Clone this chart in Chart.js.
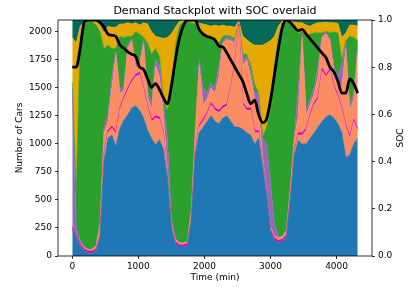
<!DOCTYPE html>
<html>
<head>
<meta charset="utf-8">
<script src="https://cdn.jsdelivr.net/npm/chart.js@4/dist/chart.umd.min.js"></script>
<style>
html,body{margin:0;padding:0;background:#fff;}
canvas{display:block;}
</style>
</head>
<body>
<canvas id="c" width="419" height="287"></canvas>
<script>
// Time axis (minutes)
const times = [0,60,120,180,240,300,360,420,480,540,
600,660,720,780,840,900,960,1020,1080,1140,
1200,1260,1320,1380,1440,1500,1560,1620,1680,1740,
1800,1860,1920,1980,2040,2100,2160,2220,2280,2340,
2400,2460,2520,2580,2640,2700,2760,2820,2880,2940,
3000,3060,3120,3180,3240,3300,3360,3420,3480,3540,
3600,3660,3720,3780,3840,3900,3960,4020,4080,4140,
4200,4260,4320];

// Stack layers (number of cars), bottom to top
const blueCars = [240,160,90,45,25,25,45,160,850,1050,
1080,980,1140,1210,1260,1320,1340,1300,1230,1120,
1050,990,1040,950,700,250,110,80,80,90,
300,900,1100,1150,1200,1250,1200,1180,1230,1250,
1200,1150,1150,1130,1100,1080,1000,1050,800,550,
220,140,120,130,170,500,900,1030,1000,1000,
1050,1100,1150,1200,1240,1260,1230,1180,1100,880,
900,1000,1050];
const salmonLowCars = [0,0,0,0,0,0,0,0,50,50,
60,110,160,190,220,230,260,320,250,200,
150,240,180,130,20,10,0,0,0,0,
0,20,50,50,60,100,100,100,90,90,
300,550,900,220,200,220,100,50,30,10,
0,0,0,0,0,0,20,50,80,120,
200,250,250,450,360,390,270,240,200,270,
150,200,70];
const magentaCars = [20,20,20,20,20,20,20,20,20,20,
20,20,20,20,20,20,20,20,20,20,
20,20,20,20,20,20,20,20,20,20,
20,20,20,20,20,20,20,20,20,20,
20,25,20,20,20,20,20,20,20,20,
20,20,20,20,20,20,20,20,20,20,
20,20,20,25,20,20,20,20,20,20,
20,20,20];
const salmonHighCars = [0,0,5,10,10,15,25,100,180,80,
340,690,130,60,350,350,60,60,400,80,
80,450,360,150,40,20,20,15,15,20,
80,160,530,130,120,130,130,300,560,570,
400,175,15,330,430,280,280,180,50,20,
20,20,20,20,40,80,110,150,850,110,
80,80,180,275,360,250,130,110,180,680,
230,180,710];
const purpleCars = [1240,70,25,10,5,0,0,10,50,60,
100,30,40,30,30,20,40,30,30,50,
50,50,100,130,270,30,10,5,0,0,
0,10,50,150,50,40,50,100,20,20,
20,20,0,60,30,50,50,150,150,400,
390,100,20,5,5,10,10,250,40,50,
50,50,100,20,15,20,50,50,200,50,
50,50,50];
const greenCars = [50,350,1810,1975,2030,2030,1970,1710,700,620,
250,20,470,440,80,20,280,250,20,430,
450,100,80,10,250,1110,1720,1930,1975,1960,
1680,960,250,490,500,390,420,200,40,20,
20,20,0,40,20,50,80,10,10,150,
650,1420,1770,1905,1855,1470,980,490,10,660,
580,490,290,20,10,50,300,390,50,20,
610,500,20];
const goldCars = [400,1300,100,30,10,10,30,60,140,170,
190,190,110,120,120,110,80,80,130,170,
200,110,170,550,650,540,160,40,10,10,
15,20,75,80,110,120,140,150,100,80,
90,100,10,160,130,200,350,420,820,750,
620,260,100,15,10,15,45,90,80,100,
70,80,90,90,80,90,80,85,200,70,
100,110,130];
const tealCars = [155,205,55,15,5,5,15,45,115,55,
65,65,35,35,25,35,25,45,25,35,
105,145,155,165,155,125,65,15,5,5,
10,15,30,35,45,55,45,55,45,55,
55,65,10,145,175,205,225,225,225,205,
185,145,55,10,5,10,20,25,25,45,
55,35,25,25,20,25,25,30,155,115,
45,45,55];

// State of charge
const soc = [0.80,0.80,0.88,0.99,1.0,1.0,1.0,0.99,0.97,0.94,
0.935,0.93,0.895,0.88,0.865,0.855,0.845,0.80,0.79,0.75,
0.715,0.73,0.705,0.67,0.645,0.72,0.83,0.92,0.975,1.0,
1.0,1.0,0.96,0.94,0.93,0.925,0.915,0.89,0.885,0.86,
0.83,0.80,0.77,0.74,0.69,0.645,0.66,0.60,0.565,0.58,
0.66,0.77,0.88,0.97,1.0,0.99,0.97,0.955,0.96,0.94,
0.92,0.90,0.88,0.86,0.84,0.80,0.78,0.74,0.69,0.69,
0.75,0.73,0.69];

const xTicks = [0,1000,2000,3000,4000];
const yTicks = [0,250,500,750,1000,1250,1500,1750,2000];
const socTicks = [0,0.2,0.4,0.6,0.8,1.0];

const titleText = 'Demand Stackplot with SOC overlaid';
const xLabel = 'Time (min)';
const yLabel = 'Number of Cars';
const y2Label = 'SOC';

const layers = [
  {name:'blue', data: blueCars, color:'#1f77b4'},
  {name:'salmonLow', data: salmonLowCars, color:'#fc8d62'},
  {name:'magenta', data: magentaCars, color:'#cc00cc'},
  {name:'salmonHigh', data: salmonHighCars, color:'#fc8d62'},
  {name:'purple', data: purpleCars, color:'#9467bd'},
  {name:'green', data: greenCars, color:'#2ca02c'},
  {name:'gold', data: goldCars, color:'#e6a902'},
  {name:'teal', data: tealCars, color:'#05695a'}
];

const FONT = '"DejaVu Sans", sans-serif';

const datasets = layers.map((l, i) => ({
  label: l.name,
  data: times.map((t, k) => ({x: t, y: l.data[k]})),
  yAxisID: 'y',
  backgroundColor: l.color,
  borderColor: l.color,
  borderWidth: 0.6,
  pointRadius: 0,
  tension: 0,
  fill: i === 0 ? 'origin' : '-1',
  order: 1
}));
datasets.push({
  label: 'SOC',
  data: times.map((t, k) => ({x: t, y: soc[k]})),
  yAxisID: 'y2',
  borderColor: '#000',
  borderWidth: 2.8,
  pointRadius: 0,
  fill: false,
  cubicInterpolationMode: 'monotone',
  order: -1
});

const textPlugin = {
  id: 'texts',
  afterDraw(chart) {
    const ctx = chart.ctx;
    const a = chart.chartArea;
    ctx.save();
    ctx.strokeStyle = '#000';
    ctx.lineWidth = 0.8;
    ctx.strokeRect(a.left, a.top, a.right - a.left, a.bottom - a.top);
    ctx.fillStyle = '#000';
    ctx.textAlign = 'center';
    ctx.textBaseline = 'middle';
    ctx.font = '11px ' + FONT;
    ctx.fillText(titleText, (a.left + a.right) / 2, 11.5);
    ctx.font = '9px ' + FONT;
    ctx.fillText(xLabel, (a.left + a.right) / 2, 277.5);
    ctx.save();
    ctx.translate(20, (a.top + a.bottom) / 2);
    ctx.rotate(-Math.PI / 2);
    ctx.fillText(yLabel, 0, 0);
    ctx.restore();
    ctx.save();
    ctx.translate(401, (a.top + a.bottom) / 2);
    ctx.rotate(-Math.PI / 2);
    ctx.fillText(y2Label, 0, 0);
    ctx.restore();
    ctx.restore();
  }
};

const tickFont = {family: FONT, size: 9};
const gridCfg = {drawOnChartArea: false, drawTicks: true, tickLength: 3, color: '#000', lineWidth: 0.8};

new Chart(document.getElementById('c'), {
  type: 'line',
  data: {datasets},
  options: {
    responsive: false,
    animation: false,
    devicePixelRatio: 1,
    layout: {padding: {top: 20, left: 0, right: 0, bottom: 0}},
    plugins: {legend: {display: false}, tooltip: {enabled: false}, title: {display: false}},
    scales: {
      x: {
        type: 'linear', min: -216, max: 4536,
        afterBuildTicks: s => { s.ticks = xTicks.map(v => ({value: v})); },
        afterFit: s => { s.height = 31; },
        ticks: {font: tickFont, color: '#000', padding: 2, maxRotation: 0, callback: v => String(v)},
        grid: gridCfg,
        border: {display: false}
      },
      y: {
        type: 'linear', position: 'left', stacked: true, min: 0, max: 2105,
        afterBuildTicks: s => { s.ticks = yTicks.map(v => ({value: v})); },
        afterFit: s => { s.width = 58; },
        ticks: {font: tickFont, color: '#000', padding: 3, callback: v => String(v)},
        grid: gridCfg,
        border: {display: false}
      },
      y2: {
        type: 'linear', position: 'right', min: 0, max: 1,
        afterBuildTicks: s => { s.ticks = socTicks.map(v => ({value: v})); },
        afterFit: s => { s.width = 47; },
        ticks: {font: tickFont, color: '#000', padding: 3, callback: v => Number(v).toFixed(1)},
        grid: gridCfg,
        border: {display: false}
      }
    }
  },
  plugins: [textPlugin]
});
</script>
</body>
</html>
